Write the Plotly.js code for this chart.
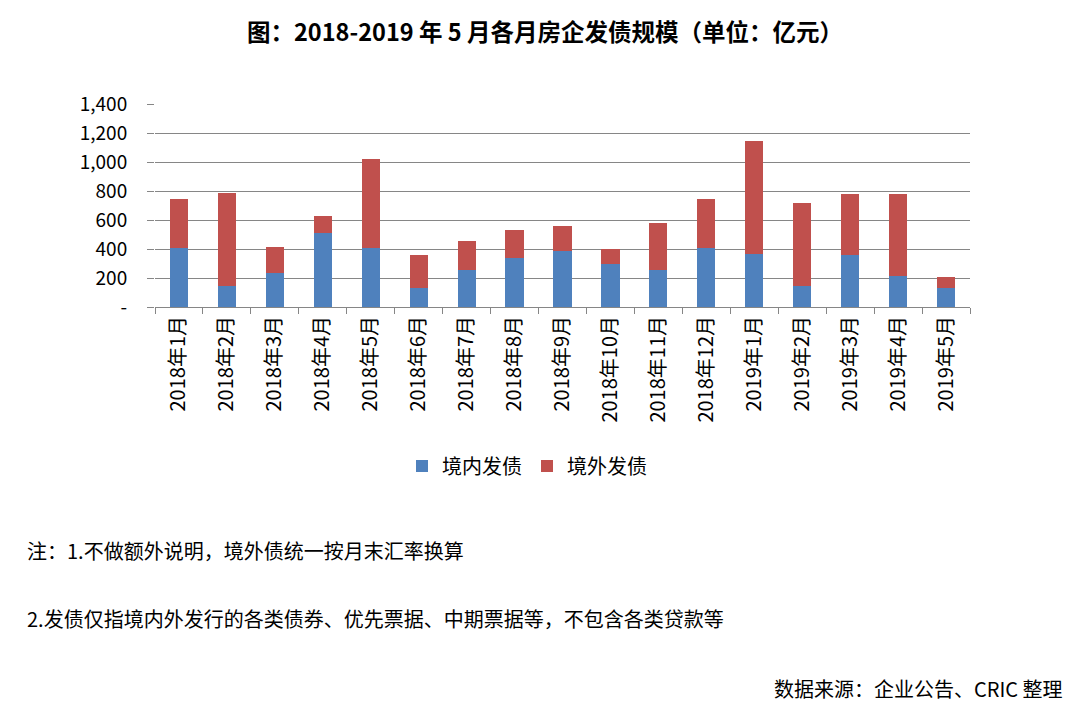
<!DOCTYPE html>
<html>
<head>
<meta charset="utf-8">
<script src="https://cdn.plot.ly/plotly-3.0.1.min.js"></script>
<style>html,body{margin:0;padding:0;background:#fff;}#chart{width:1080px;height:706px;}</style>
</head>
<body>
<div id="chart"></div>
<script>
const categories = ["2018年1月","2018年2月","2018年3月","2018年4月","2018年5月","2018年6月","2018年7月","2018年8月","2018年9月","2018年10月","2018年11月","2018年12月","2019年1月","2019年2月","2019年3月","2019年4月","2019年5月"];
const domestic = [407,143,232,513,407,129,258,338,387,299,258,405,368,145,357,214,133];
const overseas = [341,644,182,118,613,228,195,194,175,101,324,343,780,573,419,562,74];
const yTickVals = [0,200,400,600,800,1000,1200,1400];
const yTickText = ["-","200","400","600","800","1,000","1,200","1,400"];
const seriesNames = ["境内发债","境外发债"];

const FONT = '"Noto Sans CJK SC", "Noto Sans", sans-serif';
const W = 1080, H = 706;
const L = 155, R = 970, T = 104, B = 307;
const px = x => (x - L) / (R - L);
const py = y => (B - y) / (B - T);

const data = [
  {type:'bar', x:categories, y:domestic, name:seriesNames[0], marker:{color:'#4F81BD'}},
  {type:'bar', x:categories, y:overseas, name:seriesNames[1], marker:{color:'#C0504D'}}
];

const layout = {
  width:W, height:H,
  margin:{l:L, r:W-R, t:T, b:H-B, pad:0},
  paper_bgcolor:'#fff', plot_bgcolor:'#fff',
  barmode:'stack', bargap:0.62,
  font:{family:FONT, color:'#000', size:18},
  title:{text:'<b>图：2018-2019 年 5 月各月房企发债规模（单位：亿元）</b>', font:{family:FONT, size:23.5, color:'#000'}, x:px(545), xanchor:'center', y:1-33/H, yanchor:'middle', xref:'paper'},
  xaxis:{type:'category', showgrid:false, showline:true, linecolor:'#868686', linewidth:1,
    ticks:'outside', tickson:'boundaries', ticklen:6, tickcolor:'#868686', tickangle:-90,
    tickfont:{family:FONT, size:20, color:'#000'}, automargin:false},
  yaxis:{range:[0,1400], tickvals:yTickVals, ticktext:yTickText, showgrid:true, gridcolor:'#868686', gridwidth:1,
    showline:false, zeroline:false, ticks:'outside', ticklen:7, tickcolor:'#868686', ticklabelstandoff:16,
    tickfont:{family:FONT, size:19, color:'#000'}, automargin:false},
  showlegend:true,
  legend:{orientation:'h', x:px(527), xanchor:'center', y:py(466), yanchor:'middle', font:{family:FONT, size:20, color:'#000'}, traceorder:'normal', itemwidth:30},
  annotations:[
    {text:'注：1.不做额外说明，境外债统一按月末汇率换算', xref:'paper', yref:'paper', x:px(25), y:py(550), xanchor:'left', yanchor:'middle', showarrow:false, font:{family:FONT, size:20, color:'#000'}},
    {text:'2.发债仅指境内外发行的各类债券、优先票据、中期票据等，不包含各类贷款等', xref:'paper', yref:'paper', x:px(25), y:py(618), xanchor:'left', yanchor:'middle', showarrow:false, font:{family:FONT, size:20, color:'#000'}},
    {text:'数据来源：企业公告、CRIC 整理', xref:'paper', yref:'paper', x:px(1065), y:py(688), xanchor:'right', yanchor:'middle', showarrow:false, font:{family:FONT, size:20, color:'#000'}}
  ]
};

Plotly.newPlot('chart', data, layout, {displayModeBar:false, staticPlot:true});
</script>
</body>
</html>
